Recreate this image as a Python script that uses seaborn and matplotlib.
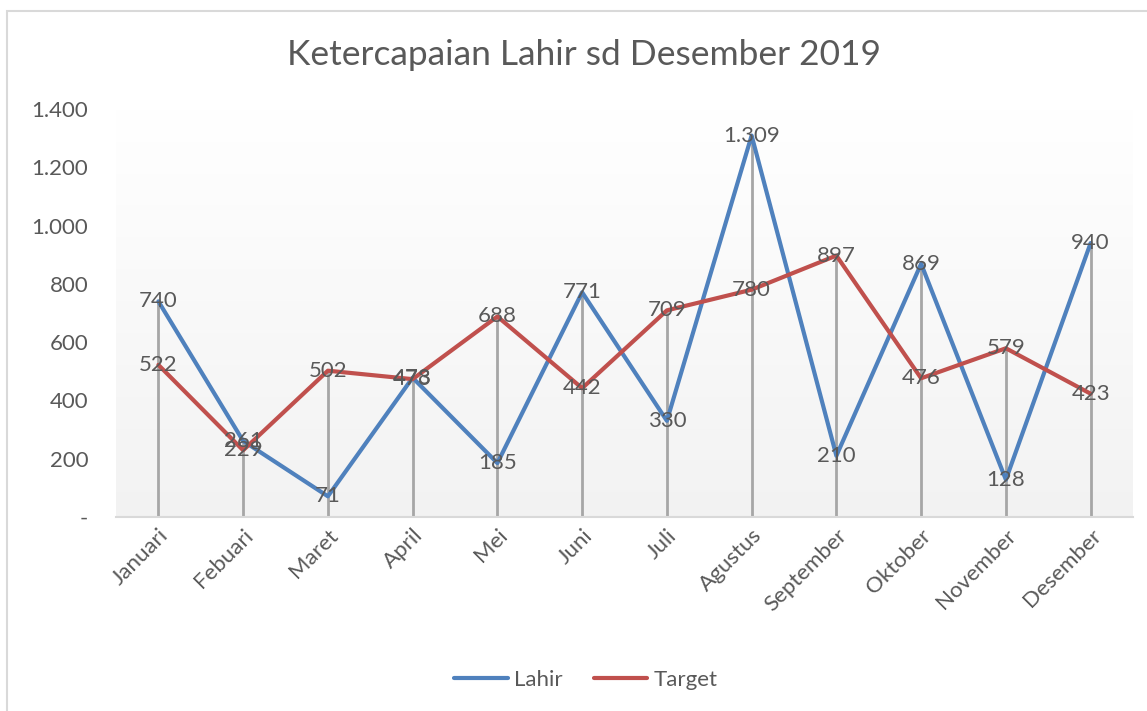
import numpy as np
import pandas as pd
import seaborn as sns
import matplotlib.pyplot as plt
from matplotlib.lines import Line2D
from matplotlib.patches import Rectangle

bulan = ['Januari', 'Febuari', 'Maret', 'April', 'Mei', 'Juni', 'Juli',
         'Agustus', 'September', 'Oktober', 'November', 'Desember']
lahir = [740, 261, 71, 478, 185, 771, 330, 1309, 210, 869, 128, 940]
target = [522, 229, 502, 473, 688, 442, 709, 780, 897, 476, 579, 423]
yticks = [0, 200, 400, 600, 800, 1000, 1200, 1400]
ytick_labels = ['-', '200', '400', '600', '800', '1.000', '1.200', '1.400']

warna = {'Lahir': '#4F81BD', 'Target': '#C0504D'}
teks = '#595959'

sns.set_style('white')
plt.rcParams['font.family'] = ['Lato', 'DejaVu Sans']

df = pd.DataFrame({'bulan': bulan, 'x': range(len(bulan)),
                   'Lahir': lahir, 'Target': target})
df_long = df.melt(id_vars=['bulan', 'x'], value_vars=['Lahir', 'Target'],
                  var_name='seri', value_name='jumlah')

fig = plt.figure(figsize=(11.47, 7.11), dpi=100)
fig.patches.append(Rectangle((7 / 1147, -0.1), 1.2, (711 - 11) / 711 + 0.1,
                             transform=fig.transFigure, fill=False,
                             edgecolor='#d9d9d9', linewidth=1.5))
ax = fig.add_axes([116 / 1147, 1 - 517 / 711, (1133 - 116) / 1147, (517 - 109) / 711])

# background gradient of the plot area
grad = np.linspace(0.95, 1.0, 256).reshape(-1, 1)
ax.imshow(np.dstack([grad, grad, grad]), extent=(-0.5, 11.5, 0, 1400),
          aspect='auto', origin='lower', zorder=0)

# drop lines
ax.vlines(df['x'], 0, df[['Lahir', 'Target']].max(axis=1),
          color='#a6a6a6', linewidth=2, zorder=1)

sns.lineplot(data=df_long, x='x', y='jumlah', hue='seri', palette=warna,
             linewidth=3, legend=False, ax=ax, zorder=2)

for s in ['Lahir', 'Target']:
    for xi, v in zip(df['x'], df[s]):
        ax.text(xi, v, f'{v:,}'.replace(',', '.'), ha='center', va='center',
                fontsize=16, color=teks, zorder=3)

ax.set_xlim(-0.5, 11.5)
ax.set_ylim(0, 1400)
ax.set_xticks(range(len(bulan)))
ax.set_xticklabels(bulan, rotation=45, ha='right', rotation_mode='anchor',
                   fontsize=16, color=teks)
ax.set_yticks(yticks)
ax.set_yticklabels(ytick_labels, fontsize=16, color=teks)
ax.tick_params(axis='x', length=0, pad=6)
ax.tick_params(axis='y', length=0, pad=20)
ax.set_xlabel('')
ax.set_ylabel('')
for sp in ['top', 'right', 'left']:
    ax.spines[sp].set_visible(False)
ax.spines['bottom'].set_color('#d9d9d9')
ax.spines['bottom'].set_linewidth(1.5)

fig.text(0.509, 1 - 55 / 711, 'Ketercapaian Lahir sd Desember 2019',
         ha='center', va='center', fontsize=25.5, color=teks)

handles = [Line2D([], [], color=warna[s], linewidth=3) for s in ['Lahir', 'Target']]
fig.legend(handles, ['Lahir', 'Target'], loc='center', ncol=2,
           bbox_to_anchor=(0.511, 1 - 680 / 711), frameon=False,
           fontsize=16, labelcolor=teks, handlelength=2.4, columnspacing=1.4,
           handletextpad=0.3)

fig.savefig('out.png', dpi=100)
